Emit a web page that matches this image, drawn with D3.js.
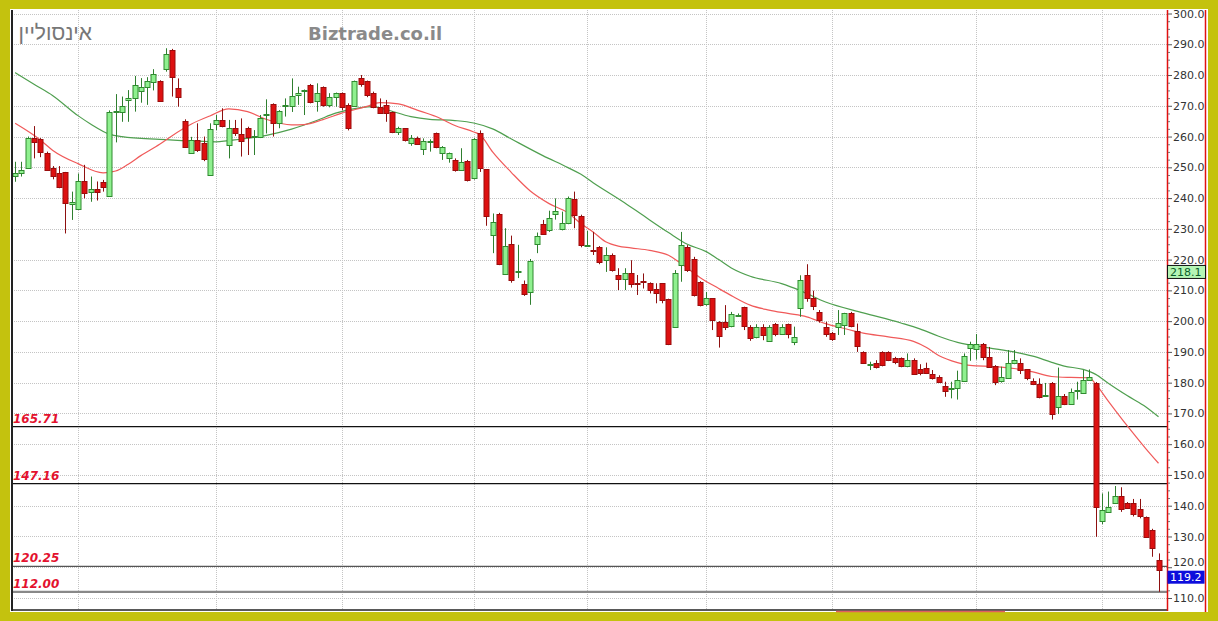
<!DOCTYPE html>
<html><head><meta charset="utf-8">
<script src="https://cdn.jsdelivr.net/npm/d3@7/dist/d3.min.js"></script>
<style>html,body{margin:0;padding:0;background:#c4c20e;}svg{display:block}</style>
</head><body>
<svg id="c" width="1218" height="621"></svg>
<script>
// ---------- DATA ----------
const title = "אינסוליין";
const brand = "Biztrade.co.il";
const openP = [247.2,248.1,249.9,259.6,259.2,254.8,249.7,248.3,248.4,238.1,236.7,245.7,241.9,243.0,245.2,240.7,268.1,267.8,271.9,272.4,
275.0,276.0,277.6,278.1,281.9,288.2,275.7,265.2,254.8,258.9,257.8,247.5,264.1,265.4,257.3,262.7,260.8,262.9,260.0,259.8,
267.2,270.6,264.3,270.0,270.1,273.3,275.0,276.8,271.4,276.2,270.3,272.8,274.3,270.3,269.7,278.9,278.2,274.1,269.7,270.3,
268.1,261.3,262.7,257.8,259.4,256.2,258.6,261.1,254.6,252.9,252.4,249.3,252.1,246.4,261.1,249.4,228.0,234.8,215.3,225.1,
216.0,212.1,209.3,225.1,231.6,229.6,234.8,229.9,231.8,239.7,234.3,224.8,223.0,224.2,219.8,221.5,215.0,213.6,215.5,212.4,
213.0,212.3,210.6,212.3,207.1,198.2,218.2,224.2,220.1,212.8,205.5,207.4,199.8,199.8,198.4,202.0,204.5,198.2,194.9,198.2,
193.6,199.0,196.0,199.0,193.3,204.1,215.0,207.4,203.0,198.2,196.2,198.2,198.7,202.5,196.8,190.0,186.0,186.5,190.0,190.0,
187.9,187.9,185.4,187.5,184.3,184.9,182.8,181.9,178.9,178.1,178.1,180.6,191.1,190.8,192.5,188.4,185.4,180.3,181.7,186.2,
186.5,184.3,180.6,179.7,176.0,180.0,171.9,175.6,173.0,177.5,176.7,181.0,180.0,135.1,138.0,140.9,143.1,140.9,140.9,138.8,
136.4,132.0,122.5];
const highP = [251.8,251.8,260.0,263.4,259.5,255.1,250.4,250.4,248.5,242.1,248.0,250.8,247.0,245.4,245.9,268.5,273.8,273.0,275.1,279.7,
279.0,279.3,281.9,278.3,288.7,288.5,278.9,265.6,259.9,264.3,260.0,264.3,267.0,269.2,265.4,265.4,265.9,263.2,262.1,267.0,
272.1,270.8,268.6,272.4,278.9,276.2,275.3,277.1,277.3,276.3,274.1,274.3,274.3,270.8,278.2,280.0,278.2,274.6,272.4,271.9,
268.1,263.2,262.7,260.5,260.0,259.4,259.1,261.3,256.9,254.8,252.9,256.2,252.4,259.5,262.0,249.4,235.0,235.2,230.2,227.8,
224.8,213.2,220.2,228.8,232.9,235.9,239.9,235.6,240.5,242.1,234.6,229.3,229.0,224.4,224.0,222.0,217.2,217.2,219.8,215.0,
215.5,212.6,212.3,212.4,207.3,216.6,229.0,224.7,220.9,213.0,209.5,207.5,200.0,205.2,203.0,202.5,204.7,198.7,199.0,199.0,
198.7,199.4,199.0,199.2,198.2,214.9,218.5,209.9,203.6,199.8,196.5,203.6,202.7,203.0,199.2,190.2,186.8,187.3,190.2,190.2,
188.4,188.2,189.5,187.9,186.0,186.5,184.1,182.4,180.3,180.3,183.9,189.5,193.3,195.8,192.9,191.6,185.7,185.2,190.6,190.6,
187.9,184.4,181.4,181.4,179.9,180.2,184.9,176.3,178.1,180.3,184.1,184.3,180.2,144.0,144.6,146.4,146.0,141.2,142.2,142.2,
136.5,132.5,124.5];
const lowP = [245.3,247.0,249.5,252.9,253.3,248.8,246.1,243.2,228.5,232.9,236.5,239.9,238.8,239.2,242.1,240.5,258.1,264.8,264.8,268.1,
271.0,270.3,275.0,271.4,281.1,273.0,269.7,256.5,254.6,255.0,252.0,247.3,262.1,263.0,252.9,260.2,253.5,254.0,254.0,259.5,
261.0,260.0,262.7,266.5,268.0,270.3,267.0,270.8,268.1,269.7,269.5,269.7,268.6,262.0,269.7,276.2,272.8,269.2,267.6,264.8,
261.1,260.5,258.4,257.0,257.3,254.0,255.1,256.2,252.4,251.5,248.6,249.0,245.4,246.0,248.5,231.0,222.1,218.2,215.0,212.5,
214.0,208.2,205.3,222.1,228.0,229.0,233.0,229.5,231.5,230.2,224.0,224.5,221.5,218.5,216.0,216.1,210.1,210.1,210.9,208.5,
210.6,209.0,205.8,205.8,192.2,198.0,212.8,216.0,208.0,204.8,205.0,197.1,191.4,197.1,198.0,201.4,197.1,193.6,194.4,193.8,
193.4,195.1,195.8,194.4,192.2,201.4,206.3,203.6,199.5,194.9,193.6,195.5,195.5,198.0,190.0,186.3,184.1,184.6,185.3,187.0,
186.0,185.0,185.0,182.6,182.4,182.8,181.0,180.0,175.4,174.9,174.5,180.3,187.1,187.5,187.3,184.9,179.2,180.0,181.4,186.0,
182.8,180.8,179.2,174.9,175.5,168.0,169.8,172.7,172.8,174.5,176.5,180.8,129.9,134.0,137.8,140.7,138.0,139.0,136.5,135.9,
129.8,123.4,112.0];
const closeP = [248.3,249.1,259.6,258.3,254.9,249.4,247.0,243.7,238.3,238.8,245.7,241.8,242.9,242.1,243.6,268.1,268.4,269.9,272.4,276.6,
276.2,277.9,280.2,271.7,286.9,279.3,272.8,256.9,258.9,255.6,252.7,262.4,265.4,263.6,262.7,261.1,258.4,260.0,260.1,265.9,
267.3,264.3,268.3,270.2,273.2,274.1,275.1,271.4,274.1,270.3,273.0,274.1,269.7,262.7,277.9,276.8,273.5,269.7,267.8,267.6,
261.6,262.7,258.9,259.4,257.6,258.7,258.7,256.5,256.5,254.6,249.1,251.8,245.9,259.2,249.7,234.0,232.3,218.6,224.4,213.4,
216.2,209.0,219.5,227.7,228.2,233.4,235.9,232.0,239.9,234.5,224.8,224.9,222.7,219.3,221.5,216.6,213.6,215.5,211.8,212.3,
212.6,210.1,209.4,206.8,192.5,215.7,224.7,216.8,208.5,205.2,207.4,200.1,195.1,198.2,202.3,202.1,198.2,194.7,198.2,195.5,
198.2,195.8,198.2,195.8,194.9,213.3,207.4,204.9,200.3,195.8,194.4,199.5,202.5,198.4,191.9,186.5,186.1,185.2,185.7,187.5,
186.5,185.4,187.5,182.8,183.0,183.2,181.4,180.3,177.4,178.2,180.8,188.6,192.5,192.5,188.4,185.2,180.3,181.7,186.5,187.3,
184.1,181.4,179.7,175.4,176.1,170.0,175.6,173.0,177.0,177.7,181.0,181.9,139.6,138.6,139.6,143.1,138.8,139.4,137.3,136.4,
129.9,126.1,119.2];
// moving averages, read at sampled candle indices
const redMaIdx = [0,4,6,10,14,16,18,20,23,25,28,31,34,37,40,44,46,49,52,56,58,61,64,67,70,73,74,76,79,82,85,88,90,92,94,96,98,101,104,106,109,112,114,117,120,123,126,129,132,135,139,143,145,147,150,152,156,159,162,165,168,171,172,174,177,180,182];
const redMaVal = [264.3,258.9,255.5,251.2,248.2,248.8,251.0,253.8,257.5,260.3,264.0,266.7,269.0,268.1,265.6,263.8,263.9,265.5,267.6,269.8,271.0,270.6,268.6,266.5,263.6,261.5,260.6,255.0,248.3,242.3,238.2,235.2,231.8,229.0,225.8,224.4,223.8,223.0,221.4,218.7,214.2,210.6,208.3,205.2,203.6,202.5,201.4,199.2,197.6,196.1,194.9,193.4,191.5,188.8,186.5,185.6,185.2,184.6,183.5,182.0,181.7,181.6,179.5,174.0,166.0,158.5,153.8];
const greenMaIdx = [0,3,6,10,12,15,17,23,28,32,36,40,44,48,51,55,57,59,63,66,70,73,76,79,84,88,90,92,97,100,104,107,110,112,114,117,122,125,129,135,141,144,147,150,155,159,162,165,167,170,172,174,177,180,182];
const greenMaVal = [280.8,277.0,273.3,266.8,264.1,260.8,260.0,259.1,258.6,258.3,259.2,260.4,262.4,265.2,267.6,269.4,269.7,268.8,266.5,265.6,265.2,264.4,262.5,259.2,253.8,249.9,247.8,245.0,238.5,234.3,228.8,225.0,222.6,220.0,217.3,214.6,212.2,209.9,206.2,202.7,199.4,197.5,195.1,193.1,191.3,190.0,188.6,186.6,185.4,184.3,182.7,179.8,175.8,172.1,168.9];
const levels = [165.71, 147.16, 120.25, 112.00];
const yTicks = d3.range(110, 301, 10);
const monthIdx = [10,32,52,73,91,110,130,153,173];
const lastValue = 119.2;
const markerValue = 218.1;

// ---------- DRAW ----------
const svg = d3.select("#c");
const L = 12, R = 1167, T = 10, B = 610;
const x = d3.scaleLinear().domain([-0.5, 183.35]).range([L, R]);
const y = d3.scaleLinear().domain([110, 300]).range([598, 13.5]);

svg.append("rect").attr("width",1218).attr("height",621).attr("fill","#c4c20e");
svg.append("rect").attr("x",10).attr("y",9).attr("width",1198).attr("height",603).attr("fill","#ffffff");

const grid = svg.append("g");
grid.selectAll("line.h").data(yTicks).join("line")
  .attr("x1",L).attr("x2",R).attr("y1",d=>Math.round(y(d))+0.5).attr("y2",d=>Math.round(y(d))+0.5)
  .attr("stroke","#c4c4c4").attr("stroke-dasharray","1,1");
grid.selectAll("line.v").data(monthIdx).join("line")
  .attr("x1",d=>Math.round(x(d))+0.5).attr("x2",d=>Math.round(x(d))+0.5).attr("y1",T).attr("y2",B)
  .attr("stroke","#c4c4c4").attr("stroke-dasharray","1,1");

// titles
svg.append("text").attr("x",92).attr("y",40).attr("text-anchor","end")
  .attr("font-family","Liberation Sans, Arial, sans-serif").attr("font-size",21).attr("fill","#777777").text(title);
svg.append("text").attr("x",308).attr("y",40)
  .attr("font-family","DejaVu Sans").attr("font-weight","bold").attr("font-size",18).attr("fill","#8a8a8a").text(brand);

// level lines
const lvlColor = ["#111","#111","#555","#888"];
const lvlWidth = [1.2,1.2,1.2,2.2];
const lg = svg.append("g");
lg.selectAll("line").data(levels).join("line")
  .attr("x1",L).attr("x2",R).attr("y1",d=>y(d)).attr("y2",d=>y(d))
  .attr("stroke",(d,i)=>lvlColor[i]).attr("stroke-width",(d,i)=>lvlWidth[i]);
lg.selectAll("text").data(levels).join("text")
  .attr("x",13).attr("y",d=>y(d)-4)
  .attr("font-family","DejaVu Sans").attr("font-size",12).attr("font-weight","bold").attr("font-style","italic")
  .attr("fill","#e3122e").text(d=>d.toFixed(2));

// moving averages
const lineGen = d3.line().x(d=>x(d[0])).y(d=>y(d[1])).curve(d3.curveMonotoneX);
svg.append("path").datum(greenMaIdx.map((d,i)=>[d,greenMaVal[i]])).attr("d",lineGen)
  .attr("fill","none").attr("stroke","#4f9f4f").attr("stroke-width",1.2);
svg.append("path").datum(redMaIdx.map((d,i)=>[d,redMaVal[i]])).attr("d",lineGen)
  .attr("fill","none").attr("stroke","#f05a5a").attr("stroke-width",1.2);

// candles
const candles = openP.map((o,i)=>({i, o, h:highP[i], l:lowP[i], c:closeP[i]}));
const cg = svg.append("g");
const gs = cg.selectAll("g").data(candles).join("g");
gs.append("line")
  .attr("x1",d=>Math.round(x(d.i))+0.5).attr("x2",d=>Math.round(x(d.i))+0.5)
  .attr("y1",d=>y(d.h)).attr("y2",d=>y(d.l))
  .attr("stroke",d=>d.c>=d.o?"#2f7f2f":"#8e1010").attr("stroke-width",1);
gs.append("rect")
  .attr("x",d=>Math.round(x(d.i))-2).attr("width",5)
  .attr("y",d=>Math.round(y(Math.max(d.o,d.c)))+0.5)
  .attr("height",d=>Math.max(1,Math.round(y(Math.min(d.o,d.c))-y(Math.max(d.o,d.c)))))
  .attr("fill",d=>d.c>=d.o?"#8ff08f":"#dd1010")
  .attr("stroke",d=>d.c>=d.o?"#2f8a2f":"#9a0c0c").attr("stroke-width",1);

// frame lines
svg.append("line").attr("x1",L).attr("x2",L).attr("y1",T).attr("y2",B+1).attr("stroke","#222").attr("stroke-width",2);
svg.append("line").attr("x1",L).attr("x2",R).attr("y1",B).attr("y2",B).attr("stroke","#222").attr("stroke-width",1.5);
svg.append("line").attr("x1",836).attr("x2",1005).attr("y1",611.5).attr("y2",611.5).attr("stroke","#e06060").attr("stroke-width",1.5);
svg.append("line").attr("x1",R+0.5).attr("x2",R+0.5).attr("y1",T).attr("y2",B+1).attr("stroke","#e01010").attr("stroke-width",1.5);
svg.append("line").attr("x1",1205.5).attr("x2",1205.5).attr("y1",T).attr("y2",612).attr("stroke","#e01010").attr("stroke-width",1.5);

// axis
const minor = d3.range(110, 300.1, 2.5).filter(v => v % 10 !== 0);
const ax = svg.append("g").attr("transform",`translate(${R+1},0)`)
  .call(d3.axisRight(y).tickValues(yTicks).tickFormat(d3.format(".1f")).tickSize(4).tickPadding(1));
ax.select(".domain").remove();
ax.selectAll("line").attr("stroke","#555");
ax.selectAll("text").attr("font-family","DejaVu Sans").attr("font-size",11).attr("fill","#333");
// the 120.0 label sits just above the last-price box
ax.selectAll(".tick").filter(d => d === 120).select("text").attr("dy","-0.12em");
const axm = svg.append("g").attr("transform",`translate(${R+1},0)`)
  .call(d3.axisRight(y).tickValues(minor).tickFormat("").tickSize(2));
axm.select(".domain").remove();
axm.selectAll("line").attr("stroke","#777");

// value boxes
const mk = svg.append("g");
mk.append("rect").attr("x",R+0.5).attr("y",y(markerValue)).attr("width",38).attr("height",13)
  .attr("fill","#b4f5b4").attr("stroke","#111").attr("stroke-width",1);
mk.append("text").attr("x",R+3).attr("y",y(markerValue)+10.5)
  .attr("font-family","DejaVu Sans").attr("font-size",11).attr("fill","#0b5e2a").text(markerValue.toFixed(1));
const lb = svg.append("g");
lb.append("rect").attr("x",R+0.5).attr("y",y(lastValue)+1).attr("width",37).attr("height",13)
  .attr("fill","#0d0ddc");
lb.append("text").attr("x",R+3).attr("y",y(lastValue)+11.5)
  .attr("font-family","DejaVu Sans").attr("font-size",11).attr("fill","#ffffff").text(lastValue.toFixed(1));
</script>
</body></html>
